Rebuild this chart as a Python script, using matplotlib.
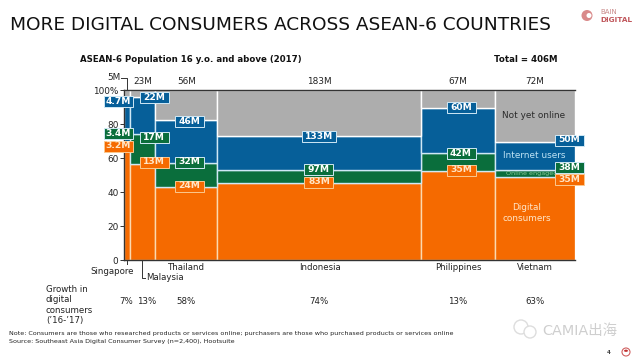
import matplotlib
matplotlib.use('Agg')
import matplotlib.pyplot as plt
from matplotlib.patches import Circle, Wedge, Rectangle
import numpy as np

plt.rcParams['font.family'] = ['DejaVu Sans', 'Noto Sans CJK SC']

countries = ['Singapore', 'Malaysia', 'Thailand', 'Indonesia', 'Philippines', 'Vietnam']
population = [5, 23, 56, 183, 67, 72]
pop_labels = ['5M', '23M', '56M', '183M', '67M', '72M']
digital = [3.2, 13, 24, 83, 35, 35]
engaged = [3.4, 17, 32, 97, 42, 38]
internet = [4.7, 22, 46, 133, 60, 50]
growth = ['7%', '13%', '58%', '74%', '13%', '63%']
digital_txt = ['3.2M', '13M', '24M', '83M', '35M', '35M']
engaged_txt = ['3.4M', '17M', '32M', '97M', '42M', '38M']
internet_txt = ['4.7M', '22M', '46M', '133M', '60M', '50M']

ORANGE = '#F56A00'
GREEN = '#0A6E3C'
BLUE = '#065F99'
GRAY = '#ADADAD'
EDGE = '#CFE8F5'
W, H = 640, 358

fig = plt.figure(figsize=(W / 100, H / 100), dpi=100, facecolor='white')
ax = fig.add_axes([124 / W, 1 - 260 / H, 451 / W, 170 / H])

pop = np.array(population, dtype=float)
lefts = np.concatenate([[0], np.cumsum(pop)[:-1]])
d = np.array(digital) / pop * 100
e = np.array(engaged) / pop * 100
i = np.array(internet) / pop * 100

ax.bar(lefts, d, pop, align='edge', color=ORANGE, edgecolor='#FBD9B0', lw=1)
ax.bar(lefts, e - d, pop, bottom=d, align='edge', color=GREEN, edgecolor=EDGE, lw=1)
ax.bar(lefts, i - e, pop, bottom=e, align='edge', color=BLUE, edgecolor=EDGE, lw=1)
ax.bar(lefts, 100 - i, pop, bottom=i, align='edge', color=GRAY, edgecolor='white', lw=1)

ax.set_xlim(0, pop.sum())
ax.set_ylim(0, 100)
ax.set_xticks([])
ax.set_yticks([0, 20, 40, 60, 80, 100])
ax.set_yticklabels(['0', '20', '40', '60', '80', '100%'], fontsize=6.4, color='#222222')
ax.tick_params(axis='y', length=3, width=0.7, pad=1, color='#333333')
ax.spines['right'].set_visible(False)
for s in ('top', 'left', 'bottom'):
    ax.spines[s].set_linewidth(1)
    ax.spines[s].set_color('#333333')

# overlay in pixel coordinates for the boxes and the small marks
bg = fig.add_axes([0, 0, 1, 1], zorder=5)
bg.set_xlim(0, W)
bg.set_ylim(H, 0)
bg.axis('off')


def px(x, y, s, **kw):
    kw.setdefault('color', '#222222')
    kw.setdefault('va', 'center')
    kw.setdefault('ha', 'center')
    return bg.text(x, y, s, **kw)


def pxline(xs, ys, **kw):
    kw.setdefault('color', '#333333')
    kw.setdefault('lw', 0.7)
    bg.plot(xs, ys, **kw)


def box(x, y, s, col):
    w = 29 if len(s) < 4 or '.' in s else 34
    ec = '#FBC88F' if col == ORANGE else EDGE
    bg.add_patch(Rectangle((x - w / 2, y - 5.5), w, 11.5, fc=col, ec=ec, lw=0.7, zorder=6))
    tc = '#FFE6C8' if col == ORANGE else 'white'
    px(x, y, s, color=tc, fontsize=6.6, fontweight='bold', zorder=7)


def to_px(xv, yv):
    return 124 + xv / pop.sum() * 451, 260 - yv * 1.7


# inner labels go under the boxes
px(534, 115, 'Not yet online', fontsize=6.4, color='#2A2A2A')
px(534, 156, 'Internet users', fontsize=6.4, color='#BFE4F5')
px(532, 173.5, 'Online engaged', fontsize=4.6, color='#8CC79A')
px(527, 213, 'Digital\nconsumers', fontsize=6.4, color='#FFE6C8', linespacing=1.25)

# value boxes sit on the top edge of each segment, the small columns are moved aside
centers = lefts + pop / 2
for k in range(len(pop)):
    cx, _ = to_px(centers[k], 0)
    for txt, val, col in ((digital_txt[k], d[k], ORANGE),
                          (engaged_txt[k], e[k], GREEN),
                          (internet_txt[k], i[k], BLUE)):
        _, cy = to_px(0, val)
        x, y = cx, cy
        if k == 0:
            x = 118
            y = {ORANGE: 146, GREEN: 133, BLUE: 101}[col]
        elif k == 1:
            x = 154
            y = {ORANGE: 162, GREEN: 137, BLUE: 97}[col]
        elif k == 2:
            x = 189.5
            y = {ORANGE: 186, GREEN: 162, BLUE: 121}[col]
        elif k == 4:
            x = 461
            y = {ORANGE: 170, GREEN: 153, BLUE: 107}[col]
        elif k == 5:
            x = 569
            y = {ORANGE: 179, GREEN: 167, BLUE: 140}[col]
        elif k == 3 and col == ORANGE:
            y = 182
        elif k == 3 and col == GREEN:
            y = 169
        box(x, y, txt, col)

# population labels on top
for k in range(1, len(pop)):
    cx, _ = to_px(centers[k], 0)
    if k == 1:
        cx = 142.5
    px(cx, 82, pop_labels[k], fontsize=6.4)
px(114, 77.5, pop_labels[0], fontsize=6.4)
pxline([121, 127, 127], [78, 78, 90])

# country names
px(112, 272, 'Singapore', fontsize=6.2)
pxline([127, 127], [261, 264])
pxline([142, 142, 145], [261, 278, 278])
px(165, 278, 'Malaysia', fontsize=6.2)
px(186, 267, 'Thailand', fontsize=6.2)
px(320, 267, 'Indonesia', fontsize=6.2)
px(458, 267, 'Philippines', fontsize=6.2)
px(535, 267, 'Vietnam', fontsize=6.2)

# growth row
px(46, 305, 'Growth in\ndigital\nconsumers\n(’16-’17)', fontsize=6.2, ha='left', linespacing=1.18)
for k, g in enumerate(growth):
    cx, _ = to_px(centers[k], 0)
    if k == 0:
        cx = 126
    if k == 1:
        cx = 147
    px(cx, 301.5, g, fontsize=6.2)

# headers
px(10, 25, 'MORE DIGITAL CONSUMERS ACROSS ASEAN-6 COUNTRIES', fontsize=13.3, ha='left', color='#111111')
px(80, 60, 'ASEAN-6 Population 16 y.o. and above (2017)', fontsize=6.2, ha='left', fontweight='bold', color='#111111')
px(494, 59, 'Total = 406M', fontsize=6.2, ha='left', fontweight='bold', color='#111111')

# footnotes
px(9, 333, 'Note: Consumers are those who researched products or services online; purchasers are those who purchased products or services online',
   fontsize=4.55, ha='left')
px(9, 341, 'Source: Southeast Asia Digital Consumer Survey (n=2,400), Hootsuite', fontsize=4.55, ha='left')

# logo, watermark and page number
bg.add_patch(Circle((587, 15.5), 5.5, fc='#D98A8A', ec='none'))
bg.add_patch(Circle((589, 15.5), 2.5, fc='white', ec='none'))
px(600, 11.5, 'BAIN', fontsize=5, ha='left', color='#C98A8A')
px(600, 20, 'DIGITAL', fontsize=5.2, ha='left', color='#C0555A', fontweight='bold')
px(542, 331, 'CAMIA出海', fontsize=10.4, ha='left', color='#CFCFCF')
bg.add_patch(Circle((521, 327), 7, fc='white', ec='#DDDDDD', lw=1))
bg.add_patch(Circle((530, 332), 6, fc='white', ec='#DDDDDD', lw=1))
px(609, 352, '4', fontsize=4, fontweight='bold', color='#444444')
bg.add_patch(Circle((626, 352), 4, fc='white', ec='#D06060', lw=0.8))
bg.add_patch(Wedge((626, 352), 2.4, 200, 340, fc='#C03030', ec='none'))

fig.savefig('out.png', dpi=100)
